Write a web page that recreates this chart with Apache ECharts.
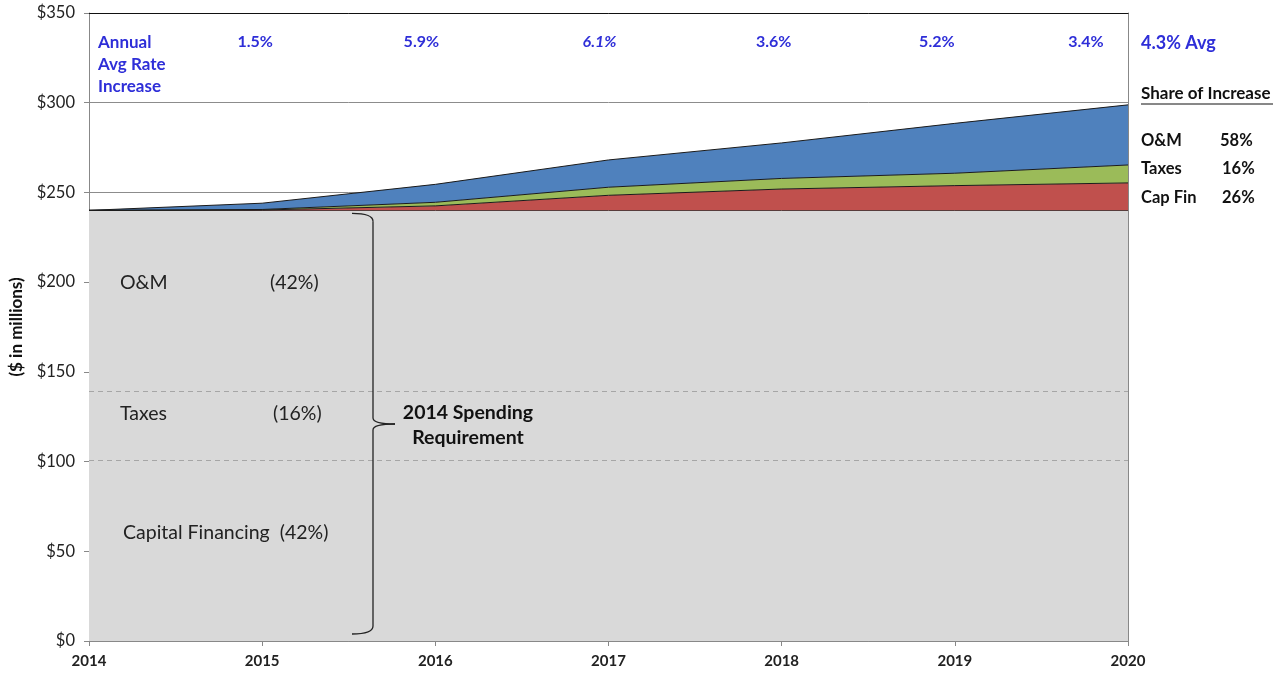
<!DOCTYPE html>
<html><head><meta charset="utf-8">
<script src="https://cdn.jsdelivr.net/npm/echarts@6/dist/echarts.min.js"></script>
<style>html,body{margin:0;padding:0;background:#fff}#c{width:1286px;height:677px}</style>
</head><body><div id="c"></div>
<script>
const years = ['2014', '2015', '2016', '2017', '2018', '2019', '2020'];
const baseSpending = [240, 240, 240, 240, 240, 240, 240];
const capFinInc = [0, 0.2, 2.5, 8.4, 11.9, 13.8, 15.3];
const taxesInc = [0, 0.3, 2.0, 4.5, 5.9, 6.9, 10.0];
const omInc = [0, 3.5, 10.0, 15.2, 19.8, 27.8, 33.5];
const baseSplits = [100.8, 139.2];
const rateLabels = ['1.5%', '5.9%', '6.1%', '3.6%', '5.2%', '3.4%'];
const avgLabel = '4.3% Avg';
const shareNames = ['O&M', 'Taxes', 'Cap Fin'];
const shareValues = ['58%', '16%', '26%'];
const yTicks = [0, 50, 100, 150, 200, 250, 300, 350];

const FONT = 'Lato, "Open Sans", sans-serif';
const BLUE = '#2E2ED8';

const chart = echarts.init(document.getElementById('c'), null, {renderer: 'canvas'});
const areaSeries = (name, data, color) => ({
  name, type: 'line', stack: 'total', data: data, symbol: 'none',
  lineStyle: {color: '#1a1a1a', width: 1}, areaStyle: {color, opacity: 1},
  z: 3
});
chart.setOption({
  animation: false,
  textStyle: {fontFamily: FONT},
  grid: {left: 88, right: 158, top: 13, bottom: 36},
  xAxis: [{
    type: 'category', data: years, boundaryGap: false,
    axisLine: {show: true, lineStyle: {color: '#888'}},
    axisTick: {show: true, length: 5, lineStyle: {color: '#888'}},
    axisLabel: {color: '#222', fontSize: 15, fontWeight: 'bold', margin: 13},
    splitLine: {show: false}
  }, {
    type: 'category', data: years, boundaryGap: false, position: 'top',
    axisLine: {show: true, onZero: false, lineStyle: {color: '#111', width: 1}},
    axisTick: {show: false}, axisLabel: {show: false}, splitLine: {show: false}
  }],
  yAxis: [{
    type: 'value', min: yTicks[0], max: yTicks[yTicks.length - 1], interval: 50,
    axisLine: {show: true, lineStyle: {color: '#888'}},
    axisTick: {show: true, length: 5, inside: false, lineStyle: {color: '#888'}},
    axisLabel: {color: '#222', fontSize: 16.5, margin: 14, formatter: v => '$' + v},
    splitLine: {show: true, lineStyle: {color: '#8c8c8c', width: 1}},
    name: '($ in millions)', nameLocation: 'middle', nameGap: 64, nameRotate: 90,
    nameTextStyle: {fontSize: 17, fontWeight: 'bold', color: '#111'}
  }, {
    type: 'value', position: 'right', min: 0, max: 350,
    axisLine: {show: true, lineStyle: {color: '#888'}},
    axisTick: {show: false}, axisLabel: {show: false}, splitLine: {show: false}
  }],
  series: [
    {
      name: 'Base', type: 'line', stack: 'total', data: baseSpending, symbol: 'none',
      lineStyle: {color: '#1a1a1a', width: 1}, areaStyle: {color: '#d9d9d9', opacity: 1}, z: 2,
      markLine: {
        silent: true, symbol: 'none', label: {show: false},
        lineStyle: {color: '#a6a6a6', type: [5, 4], width: 1},
        data: baseSplits.map(v => ({yAxis: v}))
      }
    },
    areaSeries('Capital Financing', capFinInc, '#C0504D'),
    areaSeries('Taxes', taxesInc, '#9BBB59'),
    areaSeries('O&M', omInc, '#4F81BD')
  ]
});

function layout() {
  const px = (i, y) => chart.convertToPixel({xAxisIndex: 0, yAxisIndex: 0}, [i, y]);
  const g = [];
  const rateOffsets = [-7, -14, -9, -8, -18, -42];
  const rowY = px(0, 350)[1] + 29;
  g.push({type: 'text', x: 98, y: rowY - 10, style: {text: 'Annual\nAvg Rate\nIncrease', font: 'bold 17px ' + FONT, fill: BLUE, lineHeight: 22}, z: 10});
  rateLabels.forEach((t, i) => {
    const p = px(i + 1, 350);
    g.push({type: 'text', x: p[0] + rateOffsets[i], y: rowY, style: {text: t, font: (i === 2 ? 'italic ' : '') + 'bold 16px ' + FONT, fill: BLUE, align: 'center', verticalAlign: 'middle'}, z: 10});
  });
  const rx = px(years.length - 1, 0)[0] + 13;
  g.push({type: 'text', x: rx, y: rowY + 1, style: {text: avgLabel, font: 'bold 18px ' + FONT, fill: BLUE, verticalAlign: 'middle'}, z: 10});
  g.push({type: 'text', x: rx, y: 94, style: {text: 'Share of Increase', font: 'bold 17px ' + FONT, fill: '#111', verticalAlign: 'middle'}, z: 10});
  g.push({type: 'line', shape: {x1: rx, y1: 104, x2: rx + 132, y2: 104}, style: {stroke: '#111', lineWidth: 1}, z: 10});
  const shareY = [141, 169, 198];
  shareNames.forEach((n, i) => {
    g.push({type: 'text', x: rx, y: shareY[i], style: {text: n, font: 'bold 16.5px ' + FONT, fill: '#111', verticalAlign: 'middle'}, z: 10});
    g.push({type: 'text', x: rx + (i === 0 ? 79 : 81), y: shareY[i], style: {text: shareValues[i], font: 'bold 16.5px ' + FONT, fill: '#111', verticalAlign: 'middle'}, z: 10});
  });
  const lab = (t, x, y) => g.push({type: 'text', x, y, style: {text: t, font: '19.5px ' + FONT, fill: '#222', verticalAlign: 'middle'}, z: 10});
  lab('O&M', 120, 283); lab('(42%)', 270, 283);
  lab('Taxes', 120, 414); lab('(16%)', 273, 414);
  lab('Capital Financing  (42%)', 123, 533);
  // brace
  const top = px(0, baseSpending[0])[1] + 3;
  const bot = px(0, 0)[1] - 7;
  const mid = Math.round((top + bot) / 2);
  const bx = 373;
  const st = {stroke: '#222', lineWidth: 1.3, fill: null};
  g.push({type: 'bezierCurve', shape: {x1: 352, y1: top, cpx1: bx, cpy1: top, x2: bx, y2: top + 8}, style: st, z: 10});
  g.push({type: 'line', shape: {x1: bx, y1: top + 8, x2: bx, y2: mid - 6}, style: st, z: 10});
  g.push({type: 'bezierCurve', shape: {x1: bx, y1: mid - 6, cpx1: bx, cpy1: mid, x2: 395, y2: mid}, style: st, z: 10});
  g.push({type: 'bezierCurve', shape: {x1: 395, y1: mid, cpx1: bx, cpy1: mid, x2: bx, y2: mid + 6}, style: st, z: 10});
  g.push({type: 'line', shape: {x1: bx, y1: mid + 6, x2: bx, y2: bot - 8}, style: st, z: 10});
  g.push({type: 'bezierCurve', shape: {x1: bx, y1: bot - 8, cpx1: bx, cpy1: bot, x2: 352, y2: bot}, style: st, z: 10});
  g.push({type: 'text', x: 468, y: mid + 1, style: {text: '2014 Spending\nRequirement', font: 'bold 19.5px ' + FONT, fill: '#111', align: 'center', verticalAlign: 'middle', lineHeight: 25}, z: 10});
  chart.setOption({graphic: g});
}
layout();
</script></body></html>
